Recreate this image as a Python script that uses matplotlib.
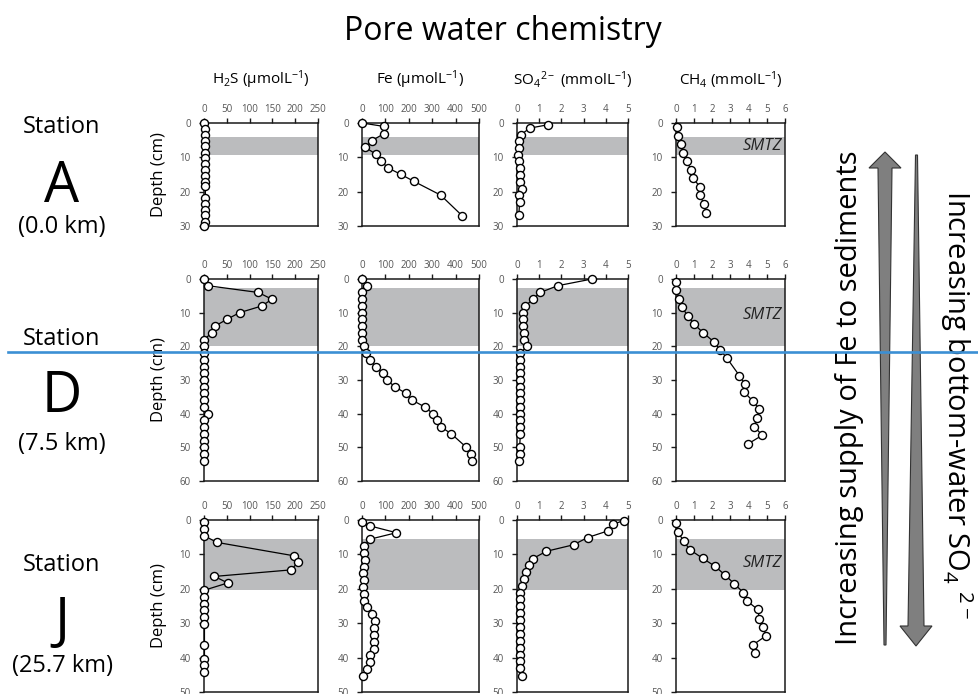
import matplotlib.pyplot as plt
from matplotlib.lines import Line2D
from matplotlib.patches import Polygon

plt.rcParams['font.family'] = ['Open Sans', 'DejaVu Sans']
plt.rcParams['mathtext.fontset'] = 'custom'
plt.rcParams['mathtext.rm'] = 'Open Sans'
plt.rcParams['mathtext.it'] = 'Open Sans:italic'
plt.rcParams['mathtext.bf'] = 'Open Sans:bold'

W, H = 979, 694

# ---- Station A (0.0 km) ----
a_h2s_depth = [0, 1.7, 3.4, 5.2, 6.8, 8.6, 10.3, 11.9, 13.7, 15.3, 17.1, 18.3, 21.8, 23.5, 25.2, 26.9, 28.7, 30.0]
a_h2s = [1, 3, 3, 3, 3, 3, 3, 3, 3, 3, 3, 3, 3, 3, 3, 3, 3, 1]
a_fe_depth = [0, 1, 3.1, 5.1, 7.1, 9, 11, 13.1, 15, 17, 21, 27]
a_fe = [0, 94, 94, 43, 14, 58, 80, 112, 167, 222, 336, 428]
a_so4_depth = [0.5, 1.5, 3.4, 5.2, 7.3, 9.3, 11.2, 13.2, 15.2, 17.1, 19.1, 21, 23, 26.9]
a_so4 = [1.4, 0.57, 0.18, 0.1, 0.08, 0.05, 0.1, 0.15, 0.12, 0.12, 0.22, 0.1, 0.12, 0.08]
a_ch4_depth = [1.3, 3.9, 6.2, 8.8, 11.2, 13.7, 16.1, 18.6, 21, 23.5, 26.1]
a_ch4 = [0.05, 0.1, 0.29, 0.38, 0.6, 0.84, 0.93, 1.33, 1.33, 1.52, 1.66]
a_smtz = (4.0, 9.3)

# ---- Station D (7.5 km) ----
d_h2s_depth = [0, 2, 4, 6, 8, 10, 12, 14, 16, 18, 20, 22, 24, 26, 28, 30, 32, 34, 36, 38,
               40, 42, 44, 46, 48, 50, 52, 54]
d_h2s = [0, 9, 119, 149, 127, 78, 50, 24, 17, 0, 0, 1, 1, 1, 1, 1, 1, 1, 1, 1,
         9, 1, 1, 1, 1, 1, 1, 1]
d_fe_depth = [0, 2, 4, 6, 8, 10, 12, 14, 16, 18, 20, 22, 24, 26, 28, 30, 32, 34, 36, 38,
              40, 42, 44, 46, 50, 52, 54]
d_fe = [0, 23, 2, 2, 2, 2, 2, 2, 2, 2, 7, 18, 33, 58, 90, 107, 140, 189, 215, 268,
        303, 322, 339, 382, 446, 467, 471]
d_so4_depth = [0, 2, 4, 6, 8, 10, 12, 14, 16, 18, 20, 22, 24, 26, 28, 30, 32, 34, 36, 38,
               40, 42, 44, 46, 50, 52, 54]
d_so4 = [3.38, 1.83, 1.05, 0.72, 0.38, 0.26, 0.26, 0.26, 0.3, 0.3, 0.45, 0.15, 0.12, 0.12,
         0.15, 0.12, 0.15, 0.15, 0.15, 0.15, 0.15, 0.15, 0.15, 0.15, 0.12, 0.15, 0.1]
d_ch4_depth = [0.9, 3.4, 6, 8.4, 10.9, 13.4, 15.9, 18.6, 21, 23.5, 28.7, 31.2, 33.7, 36.2,
               38.7, 41.2, 43.9, 46.4, 48.9]
d_ch4 = [0, 0.02, 0.18, 0.33, 0.64, 1.0, 1.48, 2.07, 2.43, 2.8, 3.49, 3.8, 3.77, 4.22,
         4.59, 4.44, 4.31, 4.75, 3.99]
d_smtz = (2.6, 19.9)

# ---- Station J (25.7 km) ----
j_h2s_depth = [0.7, 2.6, 4.6, 6.5, 10.4, 12.3, 14.5, 16.4, 18.3, 20.4, 22.3, 24.3, 26.2,
               28.2, 30.1, 36.4, 40.3, 42.2, 44.2]
j_h2s = [1, 1, 1, 28, 197, 206, 191, 23, 52, 1, 1, 1, 1, 1, 1, 1, 1, 1, 1]
j_fe_depth = [0.7, 1.7, 3.7, 5.6, 7.6, 9.7, 11.7, 13.6, 15.5, 17.5, 19.4, 21.4, 23.5, 25.4,
              27.4, 29.4, 31.4, 33.3, 35.4, 37.4, 39.3, 41.3, 43.2, 45.3]
j_fe = [0, 33, 147, 33, 9, 9, 14, 9, 4, 9, 4, 7, 7, 21, 43, 57, 50, 50, 50, 51, 33, 36, 23, 4]
j_so4_depth = [0.2, 1.2, 3.2, 5.1, 7.2, 9.1, 11.2, 13.1, 15.1, 17.2, 19.1, 21.1, 23.1, 25.1,
               27.1, 29.1, 31.1, 33.1, 35.1, 37.1, 39.1, 41.1, 43.1, 45.3]
j_so4 = [4.8, 4.32, 4.08, 3.18, 2.55, 1.32, 0.72, 0.56, 0.42, 0.3, 0.23, 0.15, 0.12, 0.12,
         0.12, 0.12, 0.12, 0.12, 0.12, 0.12, 0.12, 0.12, 0.15, 0.23]
j_ch4_depth = [1, 3.4, 6.1, 8.6, 11.1, 13.5, 16, 18.5, 21.1, 23.5, 26, 28.8, 31.2, 33.7, 36.2, 38.7]
j_ch4 = [0, 0.09, 0.42, 0.75, 1.46, 2.16, 2.7, 3.2, 3.71, 3.9, 4.5, 4.59, 4.81, 4.95, 4.26, 4.35]
j_smtz = (5.4, 20.4)

species_labels = [r'H$_2$S (µmolL$^{-1}$)', r'Fe (µmolL$^{-1}$)',
                  r'SO$_4{}^{2-}$ (mmolL$^{-1}$)', r'CH$_4$ (mmolL$^{-1}$)']
x_limits = [250, 500, 5, 6]
x_steps = [50, 100, 1, 1]

stations = ['A', 'D', 'J']
distances = ['(0.0 km)', '(7.5 km)', '(25.7 km)']
depth_max = [30, 60, 50]

row_series = [
    [(a_h2s, a_h2s_depth), (a_fe, a_fe_depth), (a_so4, a_so4_depth), (a_ch4, a_ch4_depth)],
    [(d_h2s, d_h2s_depth), (d_fe, d_fe_depth), (d_so4, d_so4_depth), (d_ch4, d_ch4_depth)],
    [(j_h2s, j_h2s_depth), (j_fe, j_fe_depth), (j_so4, j_so4_depth), (j_ch4, j_ch4_depth)],
]
row_smtz = [a_smtz, d_smtz, j_smtz]
smtz_label_depth = [6.7, 10.6, 12.5]

# panel frames in pixels (left, right) / (top, bottom)
col_px = [(204, 318), (362, 479), (517, 628), (676, 785)]
row_px = [(123, 226), (279, 481), (520, 692)]

BAND = '#bbbcbe'
TICK_GREY = '#555555'
SPINE = '#1a1a1a'


def fig_box(x0, x1, y0, y1):
    return [x0 / W, 1 - y1 / H, (x1 - x0) / W, (y1 - y0) / H]


fig = plt.figure(figsize=(W / 100, H / 100), dpi=100)

for r, (y0, y1) in enumerate(row_px):
    for c, (x0, x1) in enumerate(col_px):
        ax = fig.add_axes(fig_box(x0, x1, y0, y1))
        vals, depth = row_series[r][c]
        ax.axhspan(row_smtz[r][0], row_smtz[r][1], color=BAND, lw=0, zorder=0)
        ax.plot(vals, depth, '-o', color='black', lw=0.9, ms=5.8, mfc='white',
                mec='black', mew=1.0, clip_on=False, zorder=3)
        ax.set_xlim(0, x_limits[c])
        ax.set_ylim(depth_max[r], 0)
        step = x_steps[c]
        ax.set_xticks([k * step for k in range(int(x_limits[c] / step) + 1)])
        ax.set_yticks(list(range(0, depth_max[r] + 1, 10)))
        ax.xaxis.tick_top()
        ax.tick_params(axis='both', direction='out', length=3.5, width=1.0,
                       color=SPINE, labelsize=7, labelcolor=TICK_GREY)
        ax.tick_params(axis='x', pad=2.5)
        ax.tick_params(axis='y', pad=6)
        for sp in ax.spines.values():
            sp.set_linewidth(1.1)
            sp.set_color(SPINE)
        if c == 3:
            ax.text(x_limits[c] * 0.972, smtz_label_depth[r], 'SMTZ', style='italic',
                    fontsize=12, ha='right', va='center', color='#222222', zorder=4)
    # depth label on the left of each row
    fig.text(159 / W, 1 - (y0 + y1) / 2 / H, 'Depth (cm)', rotation=90,
             ha='center', va='center', fontsize=12)

# column headers
for c, (x0, x1) in enumerate(col_px):
    fig.text((x0 + x1) / 2 / W, 1 - 80 / H, species_labels[c], ha='center',
             va='center', fontsize=11)

fig.text(503 / W, 1 - 31 / H, 'Pore water chemistry', ha='center', va='center', fontsize=23)

# station labels
station_base = [(133, 202, 233), (345, 412, 450), (571, 638, 672)]
for s, (b1, b2, b3) in enumerate(station_base):
    fig.text(62 / W, 1 - b1 / H, 'Station', ha='center', va='baseline', fontsize=17)
    fig.text(62 / W, 1 - b2 / H, stations[s], ha='center', va='baseline', fontsize=40)
    fig.text(62 / W, 1 - b3 / H, distances[s], ha='center', va='baseline', fontsize=17)


def px(pts):
    return [(x / W, 1 - y / H) for x, y in pts]


# tapered trend arrows on the right
up_arrow = px([(885, 152), (901, 168), (892, 168), (886, 645), (884, 645),
               (878, 168), (869, 168)])
down_arrow = px([(916.5, 155), (917.5, 155), (924, 626), (932, 626), (916, 646),
                 (900, 626), (908, 626), (915.5, 155)])
for pts in (up_arrow, down_arrow):
    fig.add_artist(Polygon(pts, closed=True, transform=fig.transFigure,
                           facecolor='#7f7f7f', edgecolor='#333333', lw=0.8))

fig.text(857 / W, 1 - 398 / H, 'Increasing supply of Fe to sediments', rotation=90,
         rotation_mode='anchor', ha='center', va='baseline', fontsize=21)
fig.text(947 / W, 1 - 404 / H, r'Increasing bottom-water SO$_4$ ${}^{2-}$', rotation=-90,
         rotation_mode='anchor', ha='center', va='baseline', fontsize=21)

# blue divider line running across the figure
fig.add_artist(Line2D([8 / W, 1], [1 - 352 / H, 1 - 352 / H], transform=fig.transFigure,
                      color='#3b8fd4', lw=1.9, zorder=100))

fig.savefig('out.png', dpi=100)
